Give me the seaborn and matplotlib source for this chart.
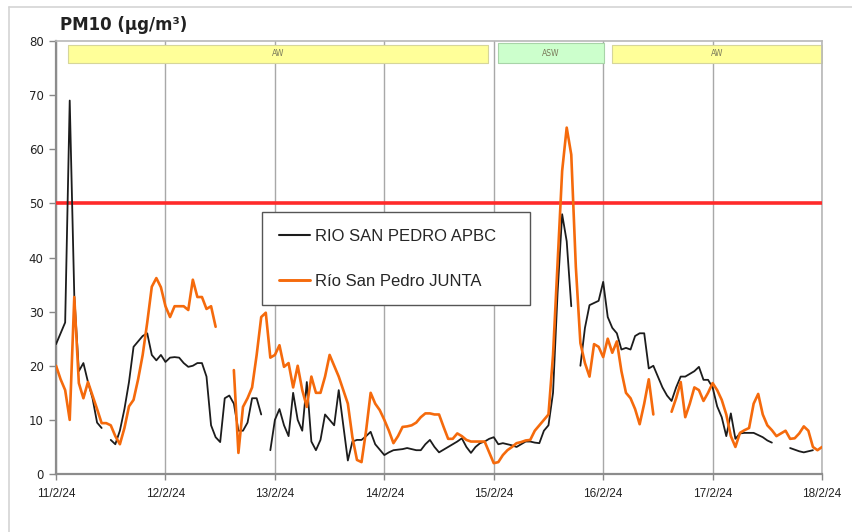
import numpy as np
import pandas as pd
import matplotlib
matplotlib.use("Agg")
import matplotlib.pyplot as plt
import seaborn as sns
from matplotlib.lines import Line2D

nan = np.nan

# hourly PM10 values, one row per day (11/2 .. 17/2) plus 18/2 00h
apbc_days = [
    [24, 26, 28, 69, 33, 19, 20.5, 17, 14, 9.5, 8.5, nan, 6.3, 5.5, 8, 12, 17, 23.5, 24.5, 25.5, 26, 22, 21, 22],
    [20.7, 21.5, 21.6, 21.5, 20.5, 19.8, 20, 20.5, 20.5, 18, 9, 6.8, 5.9, 14, 14.5, 13, 8, 8, 9.5, 14, 14, 11, nan, 4.4],
    [10, 12, 9, 7, 15, 10, 8, 17, 6, 4.4, 6.3, 11, 10, 9, 15.5, 9, 2.5, 6, 6.3, 6.3, 7, 7.8, 5.5, 4.5],
    [3.5, 4, 4.4, 4.5, 4.6, 4.8, 4.6, 4.4, 4.4, 5.5, 6.3, 5, 4, 4.5, 5, 5.5, 6, 6.6, 5, 3.9, 5, 5.7, 6, 6.5],
    [6.8, 5.5, 5.7, 5.5, 5.3, 5, 5.5, 6, 6, 5.8, 5.7, 8, 9, 15, 33.5, 48, 43, 31, nan, 20, 27, 31.2, 31.6, 32],
    [35.5, 29, 27, 26, 23, 23.3, 23, 25.5, 26, 26, 19.5, 20, 18, 16, 14.5, 13.5, 16, 18, 18, 18.5, 19, 19.8, 17.4, 17.4],
    [16, 12.5, 10.5, 7, 11.2, 6.5, 7.5, 7.6, 7.6, 7.6, 7.2, 6.8, 6.2, 5.8, nan, nan, nan, 4.8, 4.5, 4.2, 4, 4.2, 4.4, nan],
    [nan],
]
junta_days = [
    [20, 17.5, 15.5, 10, 32.7, 16.8, 14, 17, 14.5, 12, 9.4, 9.4, 9, 7, 5.5, 8.5, 12.5, 13.7, 17.5, 22, 28, 34.6, 36.2, 34.5],
    [31, 29, 31, 31, 31, 30.3, 35.9, 32.7, 32.7, 30.5, 31, 27.2, nan, nan, nan, 19.2, 3.9, 12.4, 14, 16, 22, 29, 29.8, 21.5],
    [22, 23.8, 19.8, 20.5, 16, 20, 15.5, 12.4, 18, 15, 15, 18, 22, 20, 18, 15.5, 13, 6.8, 2.6, 2.2, 8, 15, 13, 11.8],
    [10, 8, 5.7, 7, 8.7, 8.8, 9, 9.5, 10.5, 11.2, 11.2, 11, 11, 8.7, 6.5, 6.5, 7.5, 7, 6.3, 6, 6, 6, 6, 4],
    [2, 2.2, 3.5, 4.4, 5, 5.7, 5.9, 6.2, 6.3, 8, 9, 10, 11, 22, 39, 56, 64, 59, 38.3, 24.2, 20.5, 18, 24, 23.5],
    [21.6, 25, 22.4, 24.5, 19, 15, 14, 12, 9.2, 13, 17.5, 11, nan, nan, nan, 11.5, 14, 17, 10.5, 13, 16, 15.5, 13.5, 15],
    [16.8, 15.5, 13.7, 11, 7, 5, 7.6, 8.1, 8.5, 13, 14.8, 11, 9, 8.1, 7, 7.5, 8, 6.5, 6.6, 7.5, 8.8, 8, 5, 4.4],
    [5],
]

stations = ["RIO SAN PEDRO APBC", "Río San Pedro JUNTA"]
colors = {"RIO SAN PEDRO APBC": "#1c1c1c", "Río San Pedro JUNTA": "#f56a0c"}
widths = {"RIO SAN PEDRO APBC": 1.3, "Río San Pedro JUNTA": 1.9}

day_labels = ["11/2/24", "12/2/24", "13/2/24", "14/2/24", "15/2/24", "16/2/24", "17/2/24", "18/2/24"]
limit_value = 50
y_ticks = [0, 10, 20, 30, 40, 50, 60, 70, 80]

# air-mass episodes shown as bands at the top
episodes = [
    ("AW", "2024-02-11 02:40", "2024-02-14 22:40"),
    ("ASW", "2024-02-15 01:00", "2024-02-16 00:10"),
    ("AW", "2024-02-16 02:00", "2024-02-18 00:00"),
]
episode_colors = {"AW": ("#ffff99", "#d6d69a"), "ASW": ("#ccffcc", "#a8d4a8")}

times = pd.date_range("2024-02-11", periods=169, freq="h")
frames = []
for name, days in zip(stations, [apbc_days, junta_days]):
    vals = pd.Series(np.concatenate([np.array(d, dtype=float) for d in days]))
    seg = vals.isna().cumsum()
    frames.append(pd.DataFrame({"time": times, "pm10": vals, "station": name, "seg": seg}))
df = pd.concat(frames, ignore_index=True).dropna(subset=["pm10"])

sns.set_theme(style="white")
plt.rcParams["font.family"] = ["DejaVu Sans"]

fig = plt.figure(figsize=(8.53, 5.32), dpi=100)
ax = fig.add_axes([0.0657, 0.1090, 0.8980, 0.8139])

ax.axhline(limit_value, color="#ff2a2a", lw=2.6, zorder=3)

for name in stations:
    sns.lineplot(data=df[df["station"] == name], x="time", y="pm10", units="seg",
                 estimator=None, color=colors[name], linewidth=widths[name],
                 legend=False, ax=ax, zorder=4)

for label, s, e in episodes:
    fc, ec = episode_colors[label]
    s, e = pd.Timestamp(s), pd.Timestamp(e)
    top = 79.7 if label == "ASW" else 79.2
    ax.fill_between([s, e], 76.0, top, facecolor=fc, edgecolor=ec, lw=0.8, zorder=2.5)
    ax.text(s + (e - s) / 2, 77.7, label, ha="center", va="center",
            fontsize=5.5, color="#7a7a5a", zorder=3)

ax.set_xlim(times[0], times[-1])
ax.set_ylim(0, 80)
ax.set_yticks(y_ticks)
ax.set_yticklabels([str(v) for v in y_ticks], fontsize=8.5, color="#222222")
day_ticks = pd.date_range("2024-02-11", periods=8, freq="D")
ax.set_xticks(day_ticks)
ax.set_xticklabels(day_labels, fontsize=8.5, family="Liberation Sans", color="#222222")
ax.set_xlabel("")
ax.set_ylabel("")

ax.grid(axis="x", color="#a8a8a8", lw=1)
ax.grid(axis="y", visible=False)
ax.set_axisbelow(True)
ax.tick_params(axis="y", direction="out", length=5, width=1, color="#888888", pad=4, left=True)
ax.tick_params(axis="x", direction="out", length=4, width=1, color="#888888", pad=6, bottom=True)
for side, sp in ax.spines.items():
    sp.set_color("#8c8c8c" if side in ("left", "bottom") else "#b8b8b8")
    sp.set_linewidth(1.6 if side in ("left", "bottom") else 1.2)

handles = [Line2D([], [], color=colors[n], lw=widths[n] + 0.2) for n in stations]
leg = ax.legend(handles, stations, loc="upper left", bbox_to_anchor=(0.269, 0.605, 0.350, 0.0),
                mode="expand", prop={"family": "Liberation Sans", "size": 12},
                frameon=True, fancybox=False, framealpha=1, edgecolor="#555555",
                labelspacing=1.8, borderpad=1.0, handlelength=1.9, handletextpad=0.3,
                borderaxespad=0)
leg.get_frame().set_linewidth(1.0)
leg.set_zorder(5)

fig.text(60 / 853, 1 - 25 / 532, "PM10 (µg/m³)", fontsize=12, fontweight="bold",
         ha="left", va="center", color="#222222")

# light outer frame of the original picture
fig.add_artist(Line2D([9 / 853, 9 / 853], [0, 1 - 7 / 532], color="#d4d4d4", lw=1.2))
fig.add_artist(Line2D([9 / 853, 1], [1 - 7 / 532, 1 - 7 / 532], color="#d4d4d4", lw=1.2))

fig.savefig("out.png", dpi=100)
